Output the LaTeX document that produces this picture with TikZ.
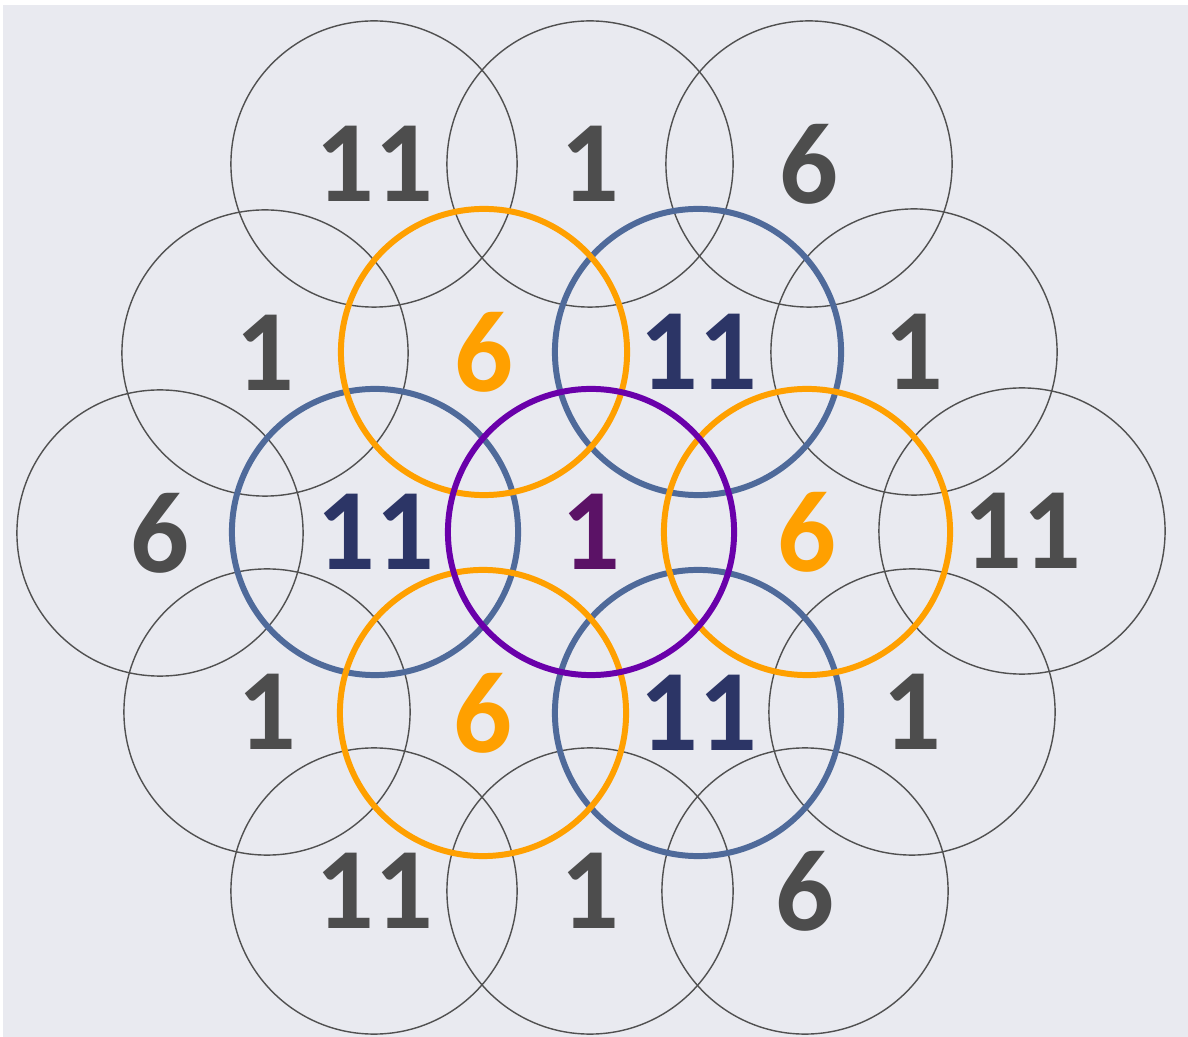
\documentclass[tikz,border=0pt]{standalone}
\usepackage{fontspec}
\setmainfont{Carlito}

\definecolor{bgcol}{HTML}{E9EAF0}
\definecolor{linegray}{HTML}{505050}
\definecolor{txtgray}{HTML}{4D4D4D}
\definecolor{orangecol}{HTML}{FFA000}
\definecolor{bluecol}{HTML}{4F6A9A}
\definecolor{navytxt}{HTML}{2C3566}
\definecolor{purplecol}{HTML}{6A00AA}
\definecolor{purpletxt}{HTML}{5B1266}

\begin{document}
\begin{tikzpicture}[
    x=0.01cm, y=-0.01cm,
    cell/.style={circle, draw=linegray, line width=0.4pt, minimum size=2.86cm,
        inner sep=0pt, text=txtgray, font=\fontsize{33}{38}\selectfont\bfseries},
    bluecell/.style={cell, draw=bluecol, line width=1.7pt, text=navytxt},
    orangecell/.style={cell, draw=orangecol, line width=1.7pt, text=orangecol},
    centercell/.style={cell, draw=purplecol, line width=1.7pt, text=purpletxt}
]

\useasboundingbox (0,0) rectangle (1188,1037);
\fill[white] (0,0) rectangle (1188,1037);
\fill[bgcol] (3,5) rectangle (1188,1037);

% outer ring
\node[cell] (g1) at (374,164) {11};
\node[cell] (g2) at (590,164) {1};
\node[cell] (g3) at (809,164) {6};
\node[cell] (g4) at (265,353) {1};
\node[cell] (g5) at (914,352) {1};
\node[cell] (g6) at (160,533) {6};
\node[cell] (g7) at (1022,531) {11};
\node[cell] (g8) at (267,712) {1};
\node[cell] (g9) at (912,712) {1};
\node[cell] (g10) at (374,891) {11};
\node[cell] (g11) at (590,891) {1};
\node[cell] (g12) at (805,891) {6};

% inner ring
\node[bluecell] (b1) at (375,532) {11};
\node[bluecell] (b2) at (698,352) {11};
\node[bluecell] (b3) at (698,713) {11};
\node[orangecell] (o1) at (484,352) {6};
\node[orangecell] (o2) at (807,532) {6};
\node[orangecell] (o3) at (483,713) {6};

% centre
\node[centercell] (c0) at (591,532) {1};

\end{tikzpicture}
\end{document}
